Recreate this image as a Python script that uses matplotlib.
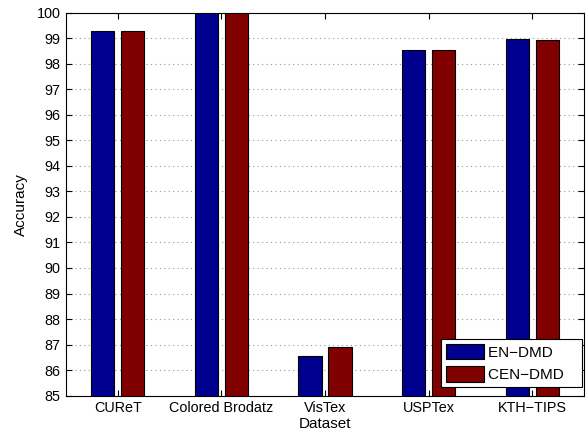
import matplotlib
matplotlib.use("Agg")
import matplotlib.pyplot as plt
import numpy as np

categories = ["CUReT", "Colored Brodatz", "VisTex", "USPTex", "KTH\u2212TIPS"]
en_dmd = [99.26, 100.0, 86.57, 98.54, 98.97]
cen_dmd = [99.28, 100.0, 86.90, 98.54, 98.93]
series_labels = ["EN\u2212DMD", "CEN\u2212DMD"]

plt.rcParams['font.family'] = ['Liberation Sans', 'DejaVu Sans']
fig = plt.figure(figsize=(5.88, 4.34), dpi=100)
ax = fig.add_axes([66 / 588, (434 - 395.7) / 434, 518 / 588, 383.2 / 434])

x = np.arange(1, len(categories) + 1)
w = 0.225
off = 0.145
ax.bar(x - off, en_dmd, w, color="#00008f", edgecolor="black", linewidth=0.8, label=series_labels[0], zorder=3)
ax.bar(x + off, cen_dmd, w, color="#800000", edgecolor="black", linewidth=0.8, label=series_labels[1], zorder=3)

ax.set_xlim(0.5, 5.5)
ax.set_ylim(85, 100)
ax.set_yticks(np.arange(85, 101, 1))
ax.set_xticks(x)
ax.set_xticklabels(categories)
ax.tick_params(direction="in", labelsize=10.4, length=4, top=True, right=True, pad=4)
ax.yaxis.grid(True, linestyle=(0, (1, 3)), color="#999999", linewidth=0.8)
ax.set_axisbelow(True)
ax.set_xlabel("Dataset", fontsize=11, labelpad=1)
ax.set_ylabel("Accuracy", fontsize=11, labelpad=6)
for s in ax.spines.values():
    s.set_linewidth(0.8)

handles, labels = ax.get_legend_handles_labels()
leg = ax.legend(handles, [l + "   " for l in labels],
                loc="lower right", bbox_to_anchor=(0.9955, 0.0227), borderaxespad=0,
                fontsize=11, fancybox=False, framealpha=1,
                edgecolor="black", handlelength=2.45, handleheight=1.15,
                handletextpad=0.3, labelspacing=0.42, borderpad=0.32)
leg.get_frame().set_linewidth(0.8)

fig.savefig("out.png", dpi=100)
